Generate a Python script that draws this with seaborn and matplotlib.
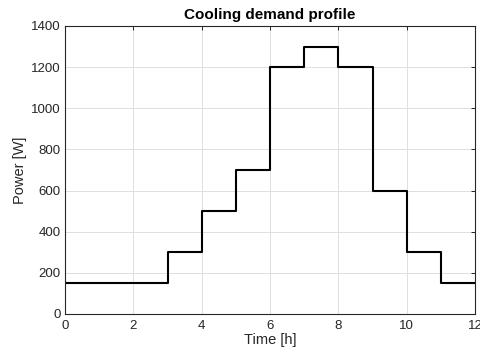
import matplotlib
matplotlib.use("Agg")
import matplotlib.pyplot as plt
import seaborn as sns
import pandas as pd

hours = [0, 1, 2, 3, 4, 5, 6, 7, 8, 9, 10, 11, 12]
power = [150, 150, 150, 300, 500, 700, 1200, 1300, 1200, 600, 300, 150, 150]

sns.set_style("white")
plt.rcParams['font.family'] = ['Liberation Sans', 'DejaVu Sans']

fig = plt.figure(figsize=(4.81, 3.56), dpi=100)
ax = fig.add_axes([65/481, 1 - 314/356, (475 - 65)/481, (314 - 26)/356])

df = pd.DataFrame({"Time": hours, "Power": power})
sns.lineplot(data=df, x="Time", y="Power", ax=ax, color="black", lw=1.5,
             drawstyle="steps-post", estimator=None)

ax.set_xlim(0, 12)
ax.set_ylim(0, 1400)
ax.set_xticks(range(0, 13, 2))
ax.set_yticks(range(0, 1401, 200))
ax.grid(True, color="#dfdfdf", lw=0.7)
ax.set_axisbelow(True)
for s in ax.spines.values():
    s.set_color("#262626")
    s.set_linewidth(0.8)
ax.tick_params(direction="in", length=3, width=0.7, colors="#262626",
               labelsize=9.5, top=True, right=True)
ax.tick_params(axis="x", pad=4)
ax.tick_params(axis="y", pad=3)
ax.set_xlabel("Time [h]", fontsize=10.5, color="#262626", labelpad=1)
ax.set_ylabel("Power [W]", fontsize=10.5, color="#262626", labelpad=3)
ax.set_title("Cooling demand profile", fontsize=11, fontweight="bold",
             color="black", pad=5)

fig.savefig("out.png", dpi=100)
